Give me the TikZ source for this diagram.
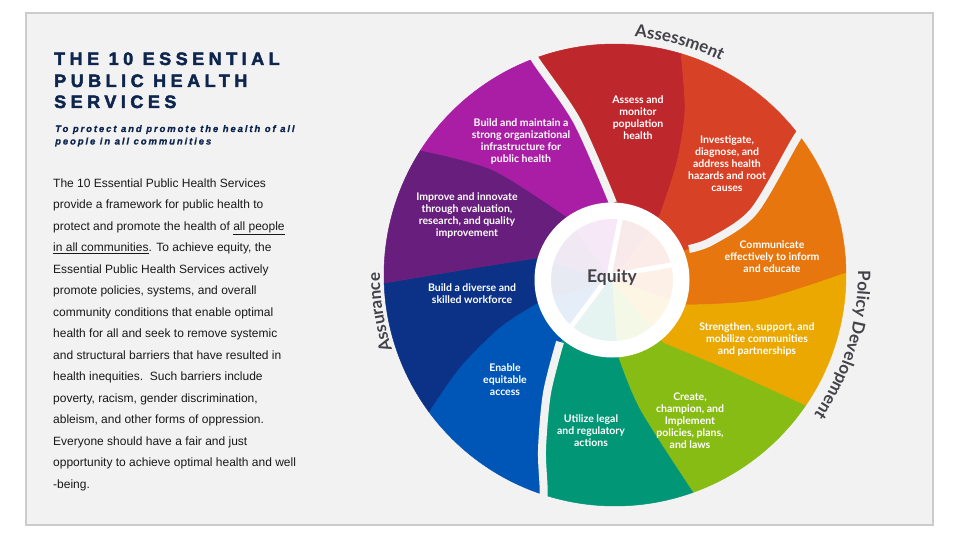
\documentclass[tikz,border=0pt]{standalone}
\usepackage{fontspec}
\setmainfont{Liberation Sans}
\newfontfamily\titlefont{Liberation Sans}[LetterSpace=25,BoldFeatures={FakeBold=2.5}]
\newfontfamily\subfont{Liberation Sans}[LetterSpace=20,BoldItalicFeatures={FakeBold=1}]
\newfontfamily\segfont{Lato}
\usetikzlibrary{calc,decorations.text}
\definecolor{bg}{RGB}{242,242,242}
\definecolor{panelline}{RGB}{204,204,204}
\definecolor{navy}{RGB}{14,38,78}
\definecolor{bodytext}{RGB}{25,25,25}
\definecolor{labgray}{RGB}{66,66,72}
\definecolor{cA}{RGB}{190,40,45}
\definecolor{cB}{RGB}{215,65,38}
\definecolor{cC}{RGB}{232,118,14}
\definecolor{cD}{RGB}{234,168,0}
\definecolor{cE}{RGB}{135,188,20}
\definecolor{cF}{RGB}{0,150,118}
\definecolor{cG}{RGB}{0,86,182}
\definecolor{cH}{RGB}{12,50,136}
\definecolor{cI}{RGB}{104,30,125}
\definecolor{cJ}{RGB}{170,30,165}
\begin{document}
\begin{tikzpicture}[x=1pt,y=-1pt,
  seglab/.style={font=\segfont\bfseries\fontsize{10.5}{12}\selectfont, text=white, align=center, inner sep=0pt},
  body/.style={anchor=base west, inner sep=0pt, font=\fontsize{12}{14}\selectfont, text=bodytext},
  ttl/.style={anchor=base west, inner sep=0pt, font=\titlefont\bfseries\fontsize{18}{20}\selectfont, text=navy},
  subt/.style={anchor=base west, inner sep=0pt, font=\subfont\bfseries\itshape\fontsize{9.5}{12}\selectfont, text=navy},
  gapline/.style={draw=bg, line width=8pt, line cap=butt},
  spoke/.style={draw=white, line width=5pt},
  segfill/.style={fill=#1, draw=#1, line width=0.5pt},
  pastel/.style={fill=#1!10!white}
]
\useasboundingbox (0,0) rectangle (960,540);
\fill[white] (0,0) rectangle (960,540);
\draw[draw=panelline, fill=bg, line width=2pt] (26,13) rectangle (933,525);

% centres
\coordinate (C) at (612,280);
\coordinate (O) at (615,275);
\coordinate (hub) at (609,276);
% boundaries
\coordinate (i0) at (613,203); \coordinate (m0) at (577,121);
\coordinate (o0) at ($(O)+(-110.4:231)$); \coordinate (e0) at ($(O)+(-110.4:250)$);
\coordinate (i1) at (660,215); \coordinate (m1a) at (677,162); \coordinate (m1b) at (685,110);
\coordinate (o1) at ($(O)+(-73.4:231)$);
\coordinate (i2) at (689,249); \coordinate (m2a) at (712,241); \coordinate (m2b) at (754,211);
\coordinate (o2) at ($(O)+(-37.3:231)$); \coordinate (e2) at ($(O)+(-37.3:250)$);
\coordinate (i3) at (686,305); \coordinate (m3) at (760,300);
\coordinate (o3) at ($(O)+(-0.5:231)$);
\coordinate (i4) at (663,343); \coordinate (m4) at (727,370);
\coordinate (o4) at ($(O)+(34.5:231)$);
\coordinate (i5) at (618,357); \coordinate (m5) at (640,410);
\coordinate (o5) at ($(O)+(70.3:231)$);
\coordinate (i6) at (560,342); \coordinate (m6a) at (547,393); \coordinate (m6b) at (542,450);
\coordinate (o6) at ($(O)+(108:231)$); \coordinate (e6) at ($(O)+(108:250)$);
\coordinate (i7) at (537,303); \coordinate (m7a) at (500,327); \coordinate (m7b) at (460,367);
\coordinate (o7) at ($(O)+(143.7:231)$);
\coordinate (i8) at (537,258); \coordinate (m8) at (480,267);
\coordinate (o8) at ($(O)+(178:231)$);
\coordinate (i9) at (567,217); \coordinate (m9) at (493,170);
\coordinate (o9) at ($(O)+(212.7:231)$);

% segments
\path[segfill=cA] (C) -- plot[smooth] coordinates {(i0) (m0) (o0)} arc[start angle=-110.4, end angle=-73.4, radius=231] -- plot[smooth] coordinates {(o1) (m1b) (m1a) (i1)} -- cycle;
\path[segfill=cB] (C) -- plot[smooth] coordinates {(i1) (m1a) (m1b) (o1)} arc[start angle=-73.4, end angle=-37.3, radius=231] -- plot[smooth] coordinates {(o2) (m2b) (m2a) (i2)} -- cycle;
\path[segfill=cC] (C) -- plot[smooth] coordinates {(i2) (m2a) (m2b) (o2)} arc[start angle=-37.3, end angle=-0.5, radius=231] -- plot[smooth] coordinates {(o3) (m3) (i3)} -- cycle;
\path[segfill=cD] (C) -- plot[smooth] coordinates {(i3) (m3) (o3)} arc[start angle=-0.5, end angle=34.5, radius=231] -- plot[smooth] coordinates {(o4) (m4) (i4)} -- cycle;
\path[segfill=cE] (C) -- plot[smooth] coordinates {(i4) (m4) (o4)} arc[start angle=34.5, end angle=70.3, radius=231] -- plot[smooth] coordinates {(o5) (m5) (i5)} -- cycle;
\path[segfill=cF] (C) -- plot[smooth] coordinates {(i5) (m5) (o5)} arc[start angle=70.3, end angle=108, radius=231] -- plot[smooth] coordinates {(o6) (m6b) (m6a) (i6)} -- cycle;
\path[segfill=cG] (C) -- plot[smooth] coordinates {(i6) (m6a) (m6b) (o6)} arc[start angle=108, end angle=143.7, radius=231] -- plot[smooth] coordinates {(o7) (m7b) (m7a) (i7)} -- cycle;
\path[segfill=cH] (C) -- plot[smooth] coordinates {(i7) (m7a) (m7b) (o7)} arc[start angle=143.7, end angle=178, radius=231] -- plot[smooth] coordinates {(o8) (m8) (i8)} -- cycle;
\path[segfill=cI] (C) -- plot[smooth] coordinates {(i8) (m8) (o8)} arc[start angle=178, end angle=212.7, radius=231] -- plot[smooth] coordinates {(o9) (m9) (i9)} -- cycle;
\path[segfill=cJ] (C) -- plot[smooth] coordinates {(i9) (m9) (o9)} arc[start angle=212.7, end angle=249.6, radius=231] -- plot[smooth] coordinates {(o0) (m0) (i0)} -- cycle;

% gaps between the three groups
\draw[gapline] plot[smooth] coordinates {(i0) (m0) (o0) (e0)};
\draw[gapline] plot[smooth] coordinates {(i2) (m2a) (m2b) (o2) (e2)};
\draw[gapline] plot[smooth] coordinates {(i6) (m6a) (m6b) (o6) (e6)};

% centre ring
\fill[white] (C) circle[radius=77.5];
\fill[pastel=cA] (C) -- ($(C)+(-82:61)$) arc[start angle=-82, end angle=-52, radius=61] -- cycle;
\fill[pastel=cB] (C) -- ($(C)+(-52:61)$) arc[start angle=-52, end angle=-14, radius=61] -- cycle;
\fill[pastel=cC] (C) -- ($(C)+(-14:61)$) arc[start angle=-14, end angle=18.7, radius=61] -- cycle;
\fill[pastel=cD] (C) -- ($(C)+(18.7:61)$) arc[start angle=18.7, end angle=51, radius=61] -- cycle;
\fill[pastel=cE] (C) -- ($(C)+(51:61)$) arc[start angle=51, end angle=85.5, radius=61] -- cycle;
\fill[pastel=cF] (C) -- ($(C)+(85.5:61)$) arc[start angle=85.5, end angle=131, radius=61] -- cycle;
\fill[pastel=cG] (C) -- ($(C)+(131:61)$) arc[start angle=131, end angle=163, radius=61] -- cycle;
\fill[pastel=cH] (C) -- ($(C)+(163:61)$) arc[start angle=163, end angle=196.4, radius=61] -- cycle;
\fill[pastel=cI] (C) -- ($(C)+(196.4:61)$) arc[start angle=196.4, end angle=234.5, radius=61] -- cycle;
\fill[pastel=cJ] (C) -- ($(C)+(234.5:61)$) arc[start angle=234.5, end angle=278, radius=61] -- cycle;
\draw[spoke] (hub) -- ($(C)+(-82:66)$);
\draw[spoke] (hub) -- ($(C)+(-14:66)$);
\draw[spoke] (hub) -- ($(C)+(131:66)$);
\node[font=\segfont\bfseries\fontsize{17.5}{20}\selectfont, text=labgray, inner sep=0pt] (eq) at (612,277) {Equity};

% segment labels
\node[seglab] (s1) at (638,118) {Assess and\\monitor\\population\\health};
\node[seglab] (s2) at (727,164) {Investigate,\\diagnose, and\\address health\\hazards and root\\causes};
\node[seglab] (s3) at (772,257) {Communicate\\effectively to inform\\and educate};
\node[seglab] (s4) at (757,339) {Strengthen, support, and\\mobilize communities\\and partnerships};
\node[seglab] (s5) at (690,421) {Create,\\champion, and\\Implement\\policies, plans,\\and laws};
\node[seglab] (s6) at (591,431) {Utilize legal\\and regulatory\\actions};
\node[seglab] (s7) at (505,380) {Enable\\equitable\\access};
\node[seglab] (s8) at (472,294) {Build a diverse and\\skilled workforce};
\node[seglab] (s9) at (467,215) {Improve and innovate\\through evaluation,\\research, and quality\\improvement};
\node[seglab] (s10) at (521,141) {Build and maintain a\\strong organizational\\infrastructure for\\public health};

% group labels on arcs
\path[decorate, decoration={text along path, text color=labgray, text align=center,
  text={|\segfont\bfseries\fontsize{17}{20}\selectfont|Assessment}}]
  ($(O)+(-95:239)$) arc[start angle=-95, end angle=-54, radius=239];
\path[decorate, decoration={text along path, text color=labgray, text align=center,
  text={|\segfont\bfseries\fontsize{17}{20}\selectfont|Policy Development}}]
  ($(O)+(-8:243)$) arc[start angle=-8, end angle=42, radius=243];
\path[decorate, decoration={text along path, text color=labgray, text align=center,
  text={|\segfont\bfseries\fontsize{17}{20}\selectfont|Assurance}}]
  ($(O)+(150:235)$) arc[start angle=150, end angle=192, radius=235];

% left column
\node[ttl] (t1) at (54,65) {THE 10 ESSENTIAL};
\node[ttl] (t2) at (54,87) {PUBLIC HEALTH};
\node[ttl] (t3) at (54,108) {SERVICES};
\node[subt] (u1) at (55,132) {To protect and promote the health of all};
\node[subt] (u2) at (55,144.5) {people in all communities};

\node[body] (b1) at (53,187) {The 10 Essential Public Health Services};
\node[body] (b2) at (53,208.5) {provide a framework for public health to};
\node[body] (b3) at (53,230) {protect and promote the health of \underline{all people}};
\node[body] (b4) at (53,251.5) {\underline{in all communities}. To achieve equity, the};
\node[body] (b5) at (53,273) {Essential Public Health Services actively};
\node[body] (b6) at (53,294.5) {promote policies, systems, and overall};
\node[body] (b7) at (53,316) {community conditions that enable optimal};
\node[body] (b8) at (53,337.5) {health for all and seek to remove systemic};
\node[body] (b9) at (53,359) {and structural barriers that have resulted in};
\node[body] (b10) at (53,380.5) {health inequities.\ \ Such barriers include};
\node[body] (b11) at (53,402) {poverty, racism, gender discrimination,};
\node[body] (b12) at (53,423.5) {ableism, and other forms of oppression.};
\node[body] (b13) at (53,445) {Everyone should have a fair and just};
\node[body] (b14) at (53,466.5) {opportunity to achieve optimal health and well};
\node[body] (b15) at (53,488) {-being.};
\end{tikzpicture}
\end{document}
